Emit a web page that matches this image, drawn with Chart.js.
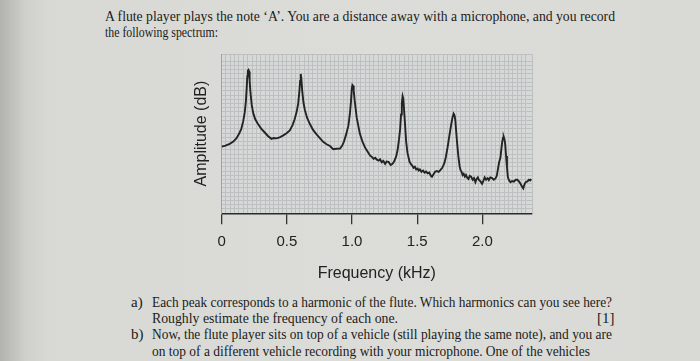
<!DOCTYPE html>
<html>
<head>
<meta charset="utf-8">
<script src="https://cdn.jsdelivr.net/npm/chart.js@4.4.1/dist/chart.umd.min.js"></script>
<style>
  html, body { margin: 0; padding: 0; }
  body {
    width: 700px; height: 361px; overflow: hidden; position: relative;
    background: linear-gradient(to right, #b2b3af 0px, #c2c3bf 14px, #d0d1cc 26px, #d8d9d4 50px, #dcddd8 55%, #d9dad5 100%);
    font-family: "Liberation Serif", "Times New Roman", serif;
    color: #1b1b1b;
  }
  .t { position: absolute; white-space: nowrap; font-size: 15px; line-height: 15px; transform-origin: 0 50%; }
  #wrap { position: absolute; left: 0; top: 0; width: 700px; height: 361px; }
</style>
</head>
<body>
<div class="t" data-w="510" style="left:105px; top:9px;">A flute player plays the note ‘A’. You are a distance away with a microphone, and you record</div>
<div class="t" data-w="113" style="left:105px; top:25px;">the following spectrum:</div>

<div class="t" style="left:131px; top:295px;">a)</div>
<div class="t" data-w="460" style="left:152px; top:295px;">Each peak corresponds to a harmonic of the flute. Which harmonics can you see here?</div>
<div class="t" data-w="246" style="left:152px; top:311px;">Roughly estimate the frequency of each one.</div>
<div class="t" style="left:597px; top:311px;">[1]</div>
<div class="t" style="left:131px; top:327px;">b)</div>
<div class="t" data-w="460" style="left:152px; top:327px;">Now, the flute player sits on top of a vehicle (still playing the same note), and you are</div>
<div class="t" data-w="438" style="left:152px; top:344px;">on top of a different vehicle recording with your microphone. One of the vehicles</div>

<div id="wrap"><canvas id="c" width="700" height="361"></canvas></div>

<script>
// ---- data ----
const freqKHz = [
  0.000,0.030,0.062,0.090,0.113,0.135,0.151,0.165,0.177,0.186,0.192,0.197,0.201,0.206,0.211,0.215,0.221,0.231,0.242,0.258,
  0.279,0.305,0.331,0.355,0.382,0.400,0.420,0.445,0.470,0.498,0.523,0.545,0.560,0.575,0.587,0.596,0.602,0.607,0.611,0.618,
  0.627,0.638,0.655,0.677,0.700,0.728,0.755,0.779,0.805,0.831,0.856,0.880,0.908,0.925,0.938,0.955,0.972,0.983,0.992,0.998,
  1.003,1.008,1.013,1.020,1.036,1.060,1.080,1.100,1.125,1.140,1.151,1.165,1.178,1.190,1.205,1.215,1.228,1.240,1.254,1.265,
  1.280,1.290,1.297,1.310,1.323,1.338,1.349,1.360,1.369,1.376,1.382,1.388,1.393,1.400,1.408,1.415,1.425,1.441,1.455,1.465,
  1.472,1.482,1.492,1.503,1.510,1.520,1.532,1.545,1.556,1.568,1.579,1.592,1.605,1.613,1.625,1.637,1.650,1.665,1.677,1.692,
  1.708,1.720,1.733,1.745,1.759,1.770,1.779,1.786,1.792,1.798,1.805,1.815,1.825,1.831,1.840,1.848,1.856,1.865,1.874,1.882,
  1.893,1.903,1.913,1.925,1.935,1.946,1.955,1.965,1.972,1.985,1.997,2.008,2.017,2.028,2.040,2.049,2.060,2.074,2.087,2.100,
  2.110,2.118,2.128,2.138,2.146,2.152,2.158,2.163,2.169,2.175,2.181,2.188,2.195,2.205,2.215,2.228,2.241,2.255,2.267,2.280,
  2.292,2.305,2.313,2.322,2.331,2.345,2.356,2.366,2.374
];
const amplitudeDb = [
  41.8,42.5,43.6,45.0,47.0,50.0,53.0,57.5,63.0,70.0,78.0,86.0,89.5,90.0,89.0,83.0,76.0,68.0,63.0,59.0,
  56.0,53.0,50.7,48.5,46.7,47.2,47.0,47.6,48.7,50.2,52.0,55.5,59.0,63.5,68.8,76.0,83.0,87.5,85.0,77.0,
  70.0,65.0,60.0,56.0,52.5,49.5,47.0,44.8,43.3,42.2,40.2,40.5,40.6,42.5,45.0,49.5,55.0,62.0,70.0,78.0,
  80.5,80.0,77.0,71.0,60.0,50.0,45.0,41.2,38.0,36.0,35.5,34.2,34.8,33.6,33.0,33.8,32.0,32.8,31.0,32.5,
  32.3,31.0,30.3,31.0,32.5,35.5,39.5,46.0,53.0,62.0,69.0,73.5,72.0,64.0,54.0,45.0,38.0,32.3,30.5,29.5,
  28.5,29.2,27.5,28.0,26.8,27.5,26.0,26.8,25.5,26.2,25.0,25.5,23.5,22.9,24.5,26.0,26.5,26.0,27.0,28.5,
  31.4,35.5,41.5,48.0,55.0,60.0,62.5,61.5,58.5,52.0,45.0,36.0,29.5,27.4,26.0,24.0,24.8,23.0,24.0,22.5,
  21.5,23.5,23.0,21.0,22.0,19.5,21.5,22.5,21.0,20.0,18.5,20.5,22.5,21.0,22.0,20.8,22.5,22.0,21.0,21.8,
  23.5,27.4,32.0,35.0,41.0,45.0,47.5,48.0,46.5,43.0,36.0,29.0,22.5,20.5,19.5,20.2,19.8,21.0,21.0,20.0,
  18.5,16.5,15.6,18.0,19.5,20.0,21.0,20.5,21.5
];
const tickValues = [0, 0.5, 1.0, 1.5, 2.0];
const tickLabels = ['0', '0.5', '1.0', '1.5', '2.0'];
const xMaxKHz = 2.38;
const yMaxDb = 100;

// fit text lines to measured widths
document.querySelectorAll('.t[data-w]').forEach(el => {
  const w = +el.dataset.w;
  const nat = el.getBoundingClientRect().width;
  if (nat > 0) el.style.transform = 'scaleX(' + (w / nat) + ')';
});

const points = freqKHz.map((f, i) => ({ x: f, y: amplitudeDb[i] }));
const gridLine = '#bcc0c0';

const bgPlugin = {
  id: 'plotBg',
  beforeDraw(chart) {
    const a = chart.chartArea, ctx = chart.ctx;
    ctx.save();
    ctx.fillStyle = '#d7d9d8';
    ctx.fillRect(a.left, a.top, a.right - a.left, a.bottom - a.top);
    ctx.restore();
  }
};

new Chart(document.getElementById('c'), {
  type: 'line',
  data: {
    datasets: [{
      data: points,
      borderColor: '#232323',
      borderWidth: 1.9,
      pointRadius: 0,
      tension: 0,
      fill: false
    }]
  },
  options: {
    responsive: false,
    animation: false,
    devicePixelRatio: 1,
    layout: { padding: { left: 188, right: 168, top: 54, bottom: 78 } },
    plugins: { legend: { display: false }, tooltip: { enabled: false } },
    scales: {
      x: {
        type: 'linear', position: 'bottom', min: 0, max: xMaxKHz,
        afterBuildTicks: s => { s.ticks = tickValues.map(v => ({ value: v })); },
        ticks: {
          padding: 9, color: '#222',
          font: { family: '"Liberation Sans", Arial, sans-serif', size: 15 },
          callback: v => tickLabels[tickValues.indexOf(v)] ?? ''
        },
        grid: { drawOnChartArea: false, drawTicks: true, tickLength: 11, color: '#333', lineWidth: 1.3 },
        border: { display: true, color: '#2a2a2a', width: 1.4 },
        title: {
          display: true, text: 'Frequency (kHz)', color: '#222',
          font: { family: '"Liberation Sans", Arial, sans-serif', size: 16 },
          padding: { top: 3.6, bottom: 0 }
        }
      },
      xg: {
        type: 'linear', position: 'top', min: 0, max: xMaxKHz,
        ticks: { display: false, stepSize: 1 / 30 },
        grid: { drawTicks: false, color: gridLine, lineWidth: 1 },
        border: { display: false }
      },
      y: {
        min: 0, max: yMaxDb,
        ticks: { display: false, stepSize: 2.65 },
        grid: { drawTicks: false, lineWidth: 1, color: c => (c.tick && c.tick.value === 0) ? 'rgba(0,0,0,0)' : gridLine },
        border: { display: true, color: '#9ea2a2', width: 1 },
        title: {
          display: true, text: 'Amplitude (dB)', color: '#222',
          font: { family: '"Liberation Sans", Arial, sans-serif', size: 16 },
          padding: { top: 4, bottom: 10.4 }
        }
      }
    }
  },
  plugins: [bgPlugin]
});
</script>
</body>
</html>
